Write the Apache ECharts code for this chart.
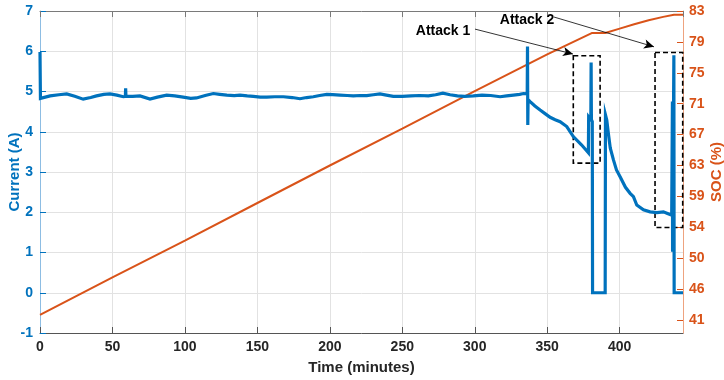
<!DOCTYPE html>
<html>
<head>
<meta charset="utf-8">
<script src="https://cdn.jsdelivr.net/npm/echarts@6/dist/echarts.min.js"></script>
<style>
  html, body { margin: 0; padding: 0; background: #fff; }
  #chart { width: 724px; height: 380px; }
</style>
</head>
<body>
<div id="chart"></div>
<script>
// current (A) vs time (minutes)
var curTime = [0, 0.3, 7, 13, 18.4, 24, 29.8, 35, 39, 44, 48.3, 53, 57.5, 58.9, 59.1, 59.3, 64, 69, 75.9, 81,
  87.4, 93, 98.8, 104, 108, 114, 119.6, 124, 128.9, 134, 138, 143, 147.2, 152, 156.5, 162, 168, 174, 179.4, 184,
  188.6, 193, 197.9, 202, 207, 212, 216.2, 221, 225.5, 230, 234.6, 239, 243.8, 250, 256, 262, 268, 273, 278, 283,
  288, 293, 299, 305, 311, 317.5, 322, 326.7, 331, 333.6, 336.2, 336.4, 336.6, 336.8, 338.2, 341.5, 345.1, 348.5, 352, 355.5,
  358.9, 363.5, 368, 373.8, 378.4, 378.6, 380.1, 380.3, 380.5, 381.1, 381.3, 390, 390.2, 391.1, 392.2, 393.5, 395.7, 397.8,
  400.3, 404, 407.2, 409.5, 411.8, 416.4, 421, 425.6, 430.2, 433, 435.9, 436.3, 436.4, 436.5, 437.4, 437.6, 443.7];
var current = [5.98, 4.83, 4.89, 4.92, 4.94, 4.88, 4.81, 4.85, 4.89, 4.93, 4.94, 4.91, 4.87, 4.88, 5.08, 4.88, 4.88, 4.89, 4.81, 4.86,
  4.91, 4.89, 4.86, 4.83, 4.84, 4.90, 4.95, 4.93, 4.91, 4.90, 4.91, 4.89, 4.88, 4.86, 4.86, 4.87, 4.87, 4.85, 4.82, 4.85,
  4.87, 4.90, 4.93, 4.92, 4.91, 4.90, 4.89, 4.90, 4.90, 4.92, 4.94, 4.91, 4.88, 4.88, 4.89, 4.90, 4.89, 4.92, 4.96, 4.92,
  4.89, 4.88, 4.89, 4.91, 4.90, 4.87, 4.89, 4.91, 4.93, 4.95, 4.94, 6.12, 4.17, 4.80, 4.75, 4.64, 4.54, 4.45, 4.36, 4.30,
  4.25, 4.13, 3.88, 3.67, 3.48, 4.37, 4.30, 5.72, 4.30, 4.25, 0, 0, 4.42, 4.29, 3.96, 3.60, 3.30, 3.05,
  2.88, 2.62, 2.47, 2.39, 2.18, 2.06, 2.01, 1.99, 2.01, 1.97, 1.93, 1.93, 4.75, 1.02, 5.90, 0, 0];

// state of charge (%)
var socTime = [0, 50, 100, 150, 200, 250, 300, 350, 380.7, 390, 400, 410, 420, 430, 437.5, 443.7];
var soc = [41.7, 46.8, 51.8, 56.9, 62.0, 67.0, 72.1, 77.1, 80.0, 80.0, 80.6, 81.2, 81.75, 82.2, 82.5, 82.5];

// right axis ticks (MATLAB rounded labels)
var socTicks = [41, 45.2, 49.4, 53.6, 57.8, 62, 66.2, 70.4, 74.6, 78.8, 83];
var socTickLabels = ['41', '46', '50', '54', '59', '63', '67', '71', '75', '79', '83'];

// attack annotations, in time / current units
var attackBoxes = [[368.0, 5.89, 386.5, 3.22], [424.4, 5.97, 443.5, 1.62]];
var attackArrows = [[300.2, 6.55, 367.8, 5.93], [354.7, 6.85, 423.7, 6.11]];
var attackLabels = ['Attack 1', 'Attack 2'];
var attackLabelPos = [[278.1, 6.50], [336.1, 6.78]];

var blue = '#0072BD', orange = '#D95319', txt = '#262626';
var font = 'Liberation Sans, Arial, sans-serif';

function pairs(xs, ys) {
  return xs.map(function (x, i) { return [x, ys[i]]; });
}

var chart = echarts.init(document.getElementById('chart'));
chart.setOption({
  animation: false,
  grid: { left: 40, right: 41, top: 11, bottom: 47, containLabel: false, outerBoundsMode: 'none' },
  xAxis: [{
    type: 'value', min: 0, max: 443.7, interval: 50,
    name: 'Time (minutes)', nameLocation: 'middle', nameGap: 27, nameMoveOverlap: false,
    nameTextStyle: { color: txt, fontSize: 15, fontWeight: 'bold', fontFamily: font },
    axisLine: { onZero: false, lineStyle: { color: '#555', width: 1 } },
    axisTick: { inside: true, length: 6, lineStyle: { color: '#555' } },
    axisLabel: { color: txt, fontSize: 14, fontWeight: 'bold', fontFamily: font, margin: 7, showMaxLabel: false },
    splitLine: { show: true, lineStyle: { color: '#e2e2e2' } }
  }, {
    type: 'value', position: 'top', min: 0, max: 443.7, interval: 50,
    axisLine: { show: true, onZero: false, lineStyle: { color: '#7a7a7a', width: 1 } },
    axisTick: { inside: true, length: 6, lineStyle: { color: '#7a7a7a' } },
    axisLabel: { show: false },
    splitLine: { show: false }
  }],
  yAxis: [{
    type: 'value', min: -1, max: 7, interval: 1,
    name: 'Current (A)', nameLocation: 'middle', nameGap: 18, nameMoveOverlap: false,
    nameTextStyle: { color: blue, fontSize: 15, fontWeight: 'bold', fontFamily: font },
    axisLine: { show: true, onZero: false, lineStyle: { color: '#8dbde3', width: 1 } },
    axisTick: { show: true, inside: true, length: 6, lineStyle: { color: blue } },
    axisLabel: { color: blue, fontSize: 14, fontWeight: 'bold', fontFamily: font, margin: 7 },
    splitLine: { show: true, lineStyle: { color: '#e2e2e2' } }
  }, {
    type: 'value', position: 'right', min: 39.23, max: 83,
    name: 'SOC (%)', nameLocation: 'middle', nameGap: 26, nameRotate: 90, nameMoveOverlap: false,
    nameTextStyle: { color: orange, fontSize: 15, fontWeight: 'bold', fontFamily: font },
    axisLine: { show: true, onZero: false, lineStyle: { color: '#eea37f', width: 1 } },
    axisTick: { show: true, inside: true, length: 6, customValues: socTicks, lineStyle: { color: orange } },
    axisLabel: {
      color: orange, fontSize: 14, fontWeight: 'bold', fontFamily: font, margin: 6,
      customValues: socTicks,
      formatter: function (v) {
        var best = 0;
        socTicks.forEach(function (t, i) { if (Math.abs(t - v) < Math.abs(socTicks[best] - v)) best = i; });
        return socTickLabels[best];
      }
    },
    splitLine: { show: false }
  }],
  series: [{
    type: 'line', name: 'SOC', yAxisIndex: 1, showSymbol: false, symbol: 'none',
    data: pairs(socTime, soc),
    lineStyle: { color: orange, width: 2 }
  }, {
    type: 'line', name: 'Current', yAxisIndex: 0, showSymbol: false, symbol: 'none',
    data: pairs(curTime, current),
    lineStyle: { color: blue, width: 3.2, join: 'miter' },
    markArea: {
      silent: true,
      itemStyle: { color: 'rgba(0,0,0,0)', borderColor: '#000', borderWidth: 1.6, borderType: [5, 3] },
      data: attackBoxes.map(function (b) { return [{ coord: [b[0], b[1]] }, { coord: [b[2], b[3]] }]; })
    },
    markLine: {
      silent: true, symbol: ['none', 'arrow'], symbolSize: [7, 10],
      lineStyle: { color: '#000', width: 0.8, type: 'solid' },
      label: { show: false },
      data: attackArrows.map(function (a) { return [{ coord: [a[0], a[1]] }, { coord: [a[2], a[3]] }]; })
    },
    markPoint: {
      silent: true, symbol: 'circle', symbolSize: 0,
      label: { show: true, position: 'inside', color: '#000', fontSize: 14, fontWeight: 'bold', fontFamily: font },
      data: attackLabels.map(function (s, i) {
        return { coord: attackLabelPos[i], value: s, label: { formatter: s } };
      })
    }
  }]
});
</script>
</body>
</html>
